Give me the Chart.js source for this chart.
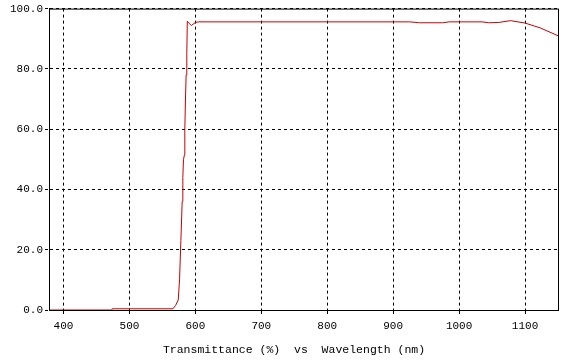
<!DOCTYPE html>
<html>
<head>
<meta charset="utf-8">
<script src="https://cdn.jsdelivr.net/npm/chart.js@4"></script>
<style>
    html, body { margin: 0; padding: 0; background: #fff }
    #wrap { width: 588px; height: 363px }
</style>
</head>
<body>
<div id="wrap"><canvas id="chart"></canvas></div>
<script>
// valores
const wavelength = [378, 473, 474, 566, 570, 574, 576, 578, 580, 581, 582, 583.5, 584, 585, 586, 587, 587.8, 590, 594, 600, 605, 900, 925, 940, 975, 985, 1035, 1045, 1060, 1078, 1100, 1123, 1150]
const transmittance = [0, 0, 0.4, 0.4, 1.5, 3.3, 10, 23, 36, 44, 50, 51.5, 60, 70, 78, 85, 95.8, 95.2, 94.4, 95.4, 95.6, 95.6, 95.6, 95.3, 95.3, 95.6, 95.6, 95.3, 95.4, 96.0, 95.2, 93.6, 91.0]
const xTicks = [400, 500, 600, 700, 800, 900, 1000, 1100]
const yTicks = [0, 20, 40, 60, 80, 100]
const axisTitle = 'Transmittance (%)  vs  Wavelength (nm)'

const FONT = 'Liberation Mono, Courier New, monospace'

const points = wavelength.map((w, i) => ({ x: w, y: transmittance[i] }))

// moldura e título de baixo
const frame = {
    id: 'frame',
    afterDraw(chart) {
        const { ctx, chartArea: a } = chart
        ctx.save()
        ctx.setLineDash([])
        ctx.strokeStyle = '#000'
        ctx.lineWidth = 1
        ctx.strokeRect(a.left + 0.5, a.top + 0.5, a.right - a.left, a.bottom - a.top)
        ctx.fillStyle = '#000'
        ctx.font = '11.5px ' + FONT
        ctx.textAlign = 'center'
        ctx.textBaseline = 'middle'
        ctx.fillText(axisTitle, 294, 350)
        ctx.restore()
    }
}

const grid = {
    color: '#000',
    lineWidth: 1,
    tickLength: 4,
    tickBorderDash: [3, 3],
    drawTicks: true
}

new Chart(document.getElementById('chart'), {
    type: 'scatter',
    data: {
        datasets: [{
            data: points,
            showLine: true,
            borderColor: 'rgb(200,0,0)',
            borderWidth: 1,
            pointRadius: 0,
            tension: 0
        }]
    },
    options: {
        responsive: true,
        maintainAspectRatio: false,
        animation: false,
        layout: { padding: { top: 5, right: 30, left: 0, bottom: 0 } },
        plugins: { legend: { display: false }, tooltip: { enabled: false } },
        scales: {
            x: {
                type: 'linear',
                min: 378,
                max: 1150,
                afterFit(scale) { scale.height = 53 },
                afterBuildTicks(scale) { scale.ticks = xTicks.map(v => ({ value: v })) },
                grid: grid,
                border: { display: true, color: '#000', dash: [3, 3] },
                ticks: {
                    color: '#000',
                    font: { family: FONT, size: 11 },
                    padding: 5,
                    maxRotation: 0,
                    callback: v => String(v)
                }
            },
            y: {
                min: 0,
                max: 100,
                afterFit(scale) { scale.width = 49 },
                afterBuildTicks(scale) { scale.ticks = yTicks.map(v => ({ value: v })) },
                grid: grid,
                border: { display: true, color: '#000', dash: [3, 3] },
                ticks: {
                    color: '#000',
                    font: { family: FONT, size: 11 },
                    padding: 2,
                    callback: v => v.toFixed(1)
                }
            }
        }
    },
    plugins: [frame]
})
</script>
</body>
</html>
